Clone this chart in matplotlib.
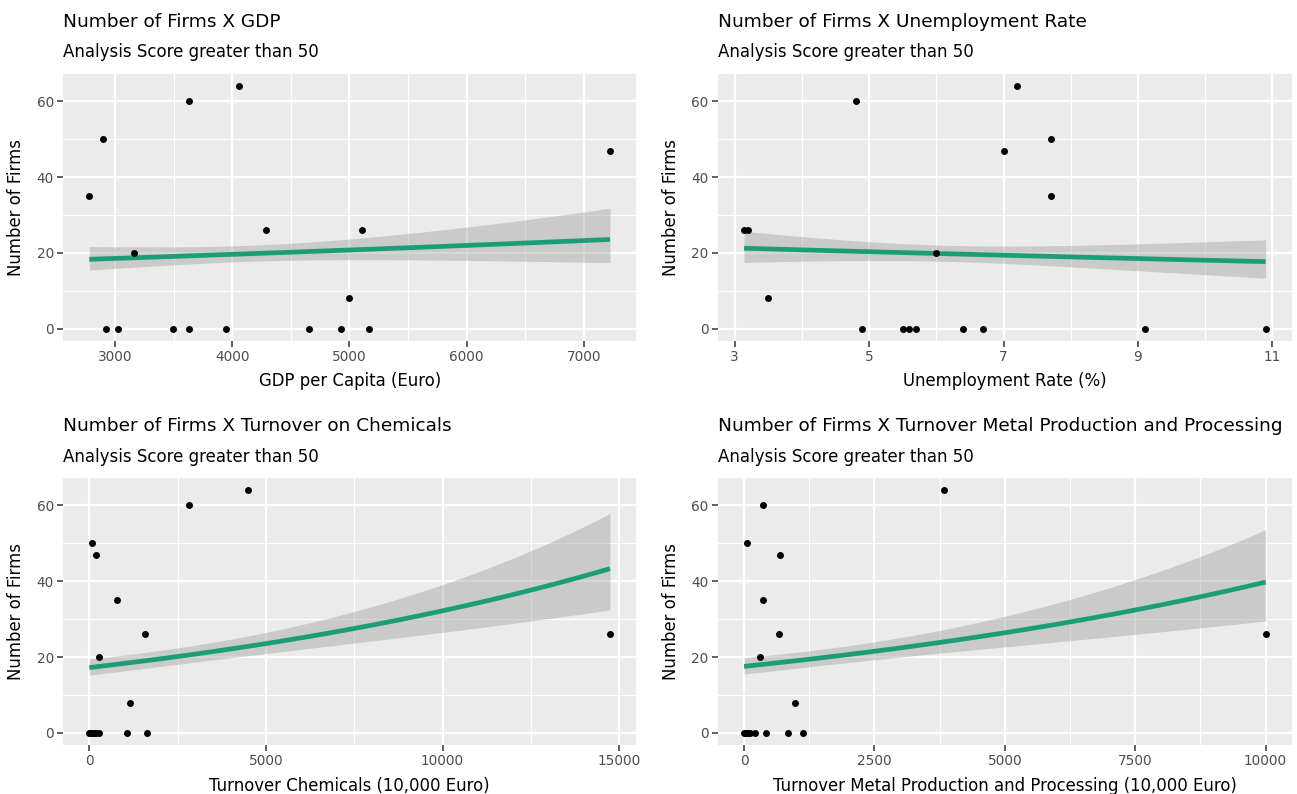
import matplotlib
matplotlib.use('Agg')
import matplotlib.pyplot as plt
from matplotlib.ticker import MultipleLocator, AutoMinorLocator
import numpy as np

# number of firms (shared by all four panels), one entry per region
firms = [35, 50, 20, 60, 64, 26, 26, 8, 47, 0, 0, 0, 0, 0, 0, 0, 0]

gdp = [2779, 2893, 3158, 3630, 4057, 4287, 5107, 5000, 7224,
       2918, 3028, 3495, 3628, 3950, 4656, 4931, 5167]
unemp = [7.7, 7.7, 6.0, 4.8, 7.2, 3.14, 3.2, 3.5, 7.0,
         4.9, 5.5, 5.6, 5.7, 6.4, 6.7, 9.1, 10.9]
chem = [773, 73, 282, 2831, 4502, 1577, 14738, 1138, 178,
        0, 30, 80, 130, 200, 260, 1055, 1630]
metal = [369, 50, 312, 355, 3833, 674, 10000, 972, 696,
         0, 40, 80, 120, 210, 426, 845, 1128]

titles = ['Number of Firms X GDP', 'Number of Firms X Unemployment Rate',
          'Number of Firms X Turnover on Chemicals',
          'Number of Firms X Turnover Metal Production and Processing']
subtitle = 'Analysis Score greater than 50'
xlabels = ['GDP per Capita (Euro)', 'Unemployment Rate (%)',
           'Turnover Chemicals (10,000 Euro)',
           'Turnover Metal Production and Processing (10,000 Euro)']
xsteps = [1000, 2, 5000, 2500]
xoffsets = [0, 1, 0, 0]


def poisson_smooth(x, y, n=80):
    # glm(y ~ x, family = poisson) fitted by IRLS, 95% band on link scale
    X = np.column_stack([np.ones_like(x), x])
    beta = np.array([np.log(y.mean()), 0.0])
    for _ in range(100):
        eta = X @ beta
        mu = np.exp(eta)
        z = eta + (y - mu) / mu
        XtW = X.T * mu
        beta = np.linalg.solve(XtW @ X, XtW @ z)
    mu = np.exp(X @ beta)
    cov = np.linalg.inv((X.T * mu) @ X)
    xs = np.linspace(x.min(), x.max(), n)
    G = np.column_stack([np.ones_like(xs), xs])
    eta = G @ beta
    se = np.sqrt(np.sum((G @ cov) * G, axis=1))
    return xs, np.exp(eta), np.exp(eta - 1.96 * se), np.exp(eta + 1.96 * se)


W, H = 1297, 794
fig = plt.figure(figsize=(W / 100, H / 100), dpi=100)
plt.rcParams['font.family'] = 'DejaVu Sans'

lefts = [63.3, 718]
rights = [636, 1291.7]
tops = [74, 478]
bottoms = [340.7, 745]
title_base = [26.7, 431]
sub_base = [56.7, 461.7]

y = np.array(firms, dtype=float)
xs_all = [gdp, unemp, chem, metal]

for i in range(4):
    r, c = divmod(i, 2)
    l, rt = lefts[c], rights[c]
    t, b = tops[r], bottoms[r]
    ax = fig.add_axes([l / W, 1 - b / H, (rt - l) / W, (b - t) / H])
    ax.set_facecolor('#EBEBEB')
    for s in ax.spines.values():
        s.set_visible(False)

    x = np.array(xs_all[i], dtype=float)
    xs, fit, lo, hi = poisson_smooth(x, y)
    ax.fill_between(xs, lo, hi, color='#999999', alpha=0.4, lw=0, zorder=2)
    ax.plot(xs, fit, color='#1B9E77', lw=3.4, zorder=3, solid_capstyle='butt')
    ax.scatter(x, y, s=25, color='black', zorder=4, lw=0)

    xr = x.max() - x.min()
    ax.set_xlim(x.min() - 0.05 * xr, x.max() + 0.05 * xr)
    ax.set_ylim(-3.2, 67.2)

    ax.xaxis.set_major_locator(MultipleLocator(xsteps[i], offset=xoffsets[i]))
    ax.xaxis.set_minor_locator(AutoMinorLocator(2))
    ax.yaxis.set_major_locator(MultipleLocator(20))
    ax.yaxis.set_minor_locator(AutoMinorLocator(2))
    ax.grid(which='major', color='white', lw=1.6, zorder=1)
    ax.grid(which='minor', color='white', lw=0.8, zorder=1)
    ax.set_axisbelow(True)
    ax.tick_params(which='major', length=4.3, width=1.1, color='#333333',
                   labelcolor='#4D4D4D', labelsize=9.8, pad=2.5)
    ax.tick_params(which='minor', length=0)

    ax.set_xlabel(xlabels[i], fontsize=11.9, color='black', labelpad=6)
    ax.set_ylabel('Number of Firms', fontsize=11.9, color='black', labelpad=8)

    fig.text(l / W, 1 - title_base[r] / H, titles[i], fontsize=13.3,
             ha='left', va='baseline')
    fig.text(l / W, 1 - sub_base[r] / H, subtitle, fontsize=12,
             ha='left', va='baseline')

fig.savefig('out.png', dpi=100, facecolor='white')
